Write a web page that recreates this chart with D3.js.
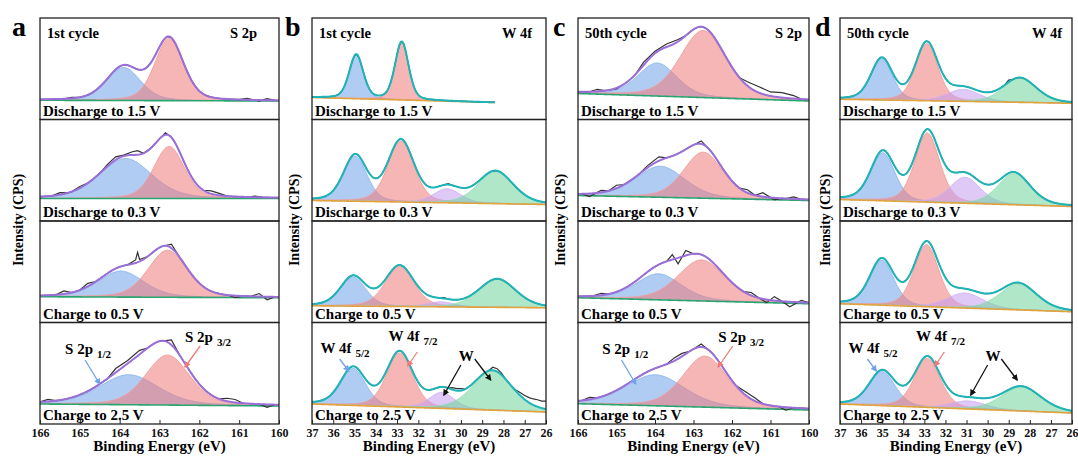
<!DOCTYPE html>
<html>
<head>
<meta charset="utf-8">
<script src="https://cdn.jsdelivr.net/npm/d3@7"></script>
<style>
  body { margin: 0; background: #fff; }
  text { font-family: "Liberation Serif", "Times New Roman", serif; font-weight: bold; }
</style>
</head>
<body>
<div id="chart"></div>
<script>
// ---- data ----
const panelLetters = ["a", "b", "c", "d"];
const cycleLabels = ["1st cycle", "1st cycle", "50th cycle", "50th cycle"];
const elementLabels = ["S 2p", "W 4f", "S 2p", "W 4f"];
const stateLabels = ["Discharge to 1.5 V", "Discharge to 0.3 V", "Charge to 0.5 V", "Charge to 2.5 V"];
const sTicks = [166, 165, 164, 163, 162, 161, 160];
const wTicks = [37, 36, 35, 34, 33, 32, 31, 30, 29, 28, 27, 26];

// fitted components per state: [binding energy (eV), height, FWHM (eV)]
// S 2p order: 2p1/2 (blue), 2p3/2 (red)
const s1Peaks = [
  [[163.90, 33, 1.00], [162.76, 62, 0.85]],
  [[163.85, 40, 1.55], [162.76, 52, 0.90]],
  [[163.97, 26, 1.35], [162.80, 47, 1.15]],
  [[163.77, 30, 1.75], [162.80, 50, 1.30]]
];
const s50Peaks = [
  [[163.94, 33, 1.20], [162.75, 67, 1.40]],
  [[163.86, 31, 1.50], [162.75, 46, 1.20]],
  [[163.91, 26, 1.40], [162.79, 41, 1.45]],
  [[163.99, 31, 1.80], [162.70, 51, 1.38]]
];
// W 4f order: 4f5/2 (blue), 4f7/2 (red), W (purple), W (green)
const w1Peaks = [
  [[34.92, 44, 0.78], [32.78, 58, 0.75]],
  [[34.97, 45, 1.30], [32.82, 61, 1.45], [30.65, 14, 1.50], [28.37, 32, 1.95]],
  [[35.07, 29, 1.40], [32.88, 40, 1.60], [30.96, 5, 1.50], [28.29, 28, 2.05]],
  [[35.07, 37, 1.38], [32.88, 54, 1.45], [30.90, 16, 1.40], [28.52, 39, 2.20]]
];
const w50Peaks = [
  [[35.02, 41, 1.20], [32.89, 57, 1.25], [31.15, 12, 1.80], [28.47, 24, 1.85]],
  [[34.97, 48, 1.35], [32.86, 69, 1.38], [31.07, 26, 1.70], [28.75, 31, 1.80]],
  [[35.02, 45, 1.35], [32.90, 62, 1.38], [31.07, 15, 2.00], [28.55, 26, 2.05]],
  [[35.00, 34, 1.45], [32.86, 49, 1.45], [30.92, 8, 2.00], [28.40, 24, 2.20]]
];

// background level at start / end of the scan
const s1Base = [[19.25, 18.5], [22.5, 22.5], [25.75, 24.75], [20, 18]];
const s50Base = [[26, 18.5], [25.5, 20.5], [24.75, 18.75], [20.3, 14]];
const w1Base = [[22, 17], [20.5, 16.5], [16.75, 14.75], [20, 12]];
const w50Base = [[20.25, 16.25], [21.5, 14.5], [18.75, 10.75], [20, 11]];

// scan ranges (eV)
const w1Range = [[37, 28.4], [37, 26], [37, 26], [37, 26]];

// raw data deviations from the fit envelope: [eV, offset]
const s1Raw = [
  [[165.2, 1], [160.8, 1.5], [160.5, -1], [160.3, 1.5]],
  [[165.5, 2], [165.0, 1.5], [164.3, 2], [164.1, 3], [163.9, 1], [163.7, 3], [163.55, 4], [163.4, 0], [162.85, 2], [161.7, 3], [161.5, 2], [160.6, 1]],
  [[165.4, 3], [164.8, 3], [163.6, 3], [163.55, 10], [163.5, 2], [162.7, 4], [161.1, -2], [160.5, 3], [160.3, -3]],
  [[165.8, 2], [164.1, 4], [163.8, 3], [163.5, 4], [162.7, 5], [161.3, 3], [161.1, 3], [160.3, -3]]
];
const s50Raw = [
  [[165.5, 2], [165.0, -1], [164.3, 3], [164.0, 2], [163.7, 3], [163.4, 2], [161.6, 4], [161.3, 6], [161.0, 4], [160.7, 5], [160.4, 3]],
  [[165.7, -3], [165.4, 2], [165.0, 3], [164.2, 2], [163.9, 4], [162.8, 3], [161.6, 3], [161.2, 4], [160.9, -2], [160.4, 2]],
  [[165.4, 2], [163.55, 5], [163.4, -6], [163.2, 5], [161.5, 3], [161.1, -3], [160.9, 4], [160.5, -5], [160.2, 2]],
  [[165.7, 2], [163.5, 3], [163.3, 3], [162.8, 3], [161.7, 3], [161.4, 3], [160.6, -3]]
];
const w1Raw = [
  [], [[30.6, 1]], [[30.8, 1]],
  [[30.4, 2], [30.2, 2], [30.0, 2], [28.5, 3], [28.3, 3], [28.1, 2], [27.4, 1], [27.2, 3], [27.0, 4], [26.8, 5], [26.6, 6], [26.4, 7], [26.2, 7], [26.0, 8]]
];
const w50Raw = [[[29.0, 2]], [], [], []];

// annotations on the bottom row: [text, subscript, eV, level]
const sNotes = [["S 2p", "1/2", 165.37, 70], ["S 2p", "3/2", 162.36, 82]];
const wNotes = [["W 4f", "5/2", 36.6, 71], ["W 4f", "7/2", 33.4, 83], ["W", "", 30.1, 63]];
// arrows: [eV from, level from, eV to, level to, colour index]
const sArrows = [[164.87, 64, 164.5, 40, 0], [161.98, 78, 162.36, 57, 1]];
const wArrows = [[35.7, 65, 35.28, 53, 0], [32.05, 72, 32.5, 58, 1], [30.0, 59, 30.8, 29, 4], [29.35, 65, 28.6, 44, 4]];

// ---- drawing ----
const fillColors = ["#6fa3e8", "#f07a7a", "#c59cf0", "#6fd39b", "#111"];
const lineColors = ["#8db7ee", "#f29c9c", "#cdb0f0", "#8fdcb0", "#111"];
const fitColor = { S: "#9a6fd8", W: "#1fb5b8" };
const bgColor = { S: "#2aa570", W: "#e2a23c" };

const columns = [
  { frame: [40, 279], domain: [166, 160], ticks: sTicks, kind: "S", peaks: s1Peaks, base: s1Base, raw: s1Raw, inset: 22, titleX: 18, letterX: 12 },
  { frame: [312, 546], domain: [37, 26], ticks: wTicks, kind: "W", peaks: w1Peaks, base: w1Base, raw: w1Raw, ranges: w1Range, inset: 14, titleX: 294, letterX: 285 },
  { frame: [578, 809], domain: [166, 160], ticks: sTicks, kind: "S", peaks: s50Peaks, base: s50Base, raw: s50Raw, inset: 7, titleX: 560, letterX: 553 },
  { frame: [840, 1072], domain: [37, 26], ticks: wTicks, kind: "W", peaks: w50Peaks, base: w50Base, raw: w50Raw, inset: 10, titleX: 825, letterX: 815 }
];

const svg = d3.select("#chart").append("svg")
  .attr("width", 1078)
  .attr("height", 459);

const defs = svg.append("defs");
[0, 1, 4].forEach(i => {
  defs.append("marker")
    .attr("id", "arrow" + i)
    .attr("viewBox", "0 0 10 10")
    .attr("refX", 8).attr("refY", 5)
    .attr("markerWidth", 5).attr("markerHeight", 5)
    .attr("orient", "auto")
    .append("path")
    .attr("d", "M0,0 L10,5 L0,10 z")
    .attr("fill", i == 4 ? "#111" : fillColors[i]);
});

const rows = d3.scaleBand().domain(d3.range(4)).range([18, 424]);

// pseudo-Voigt (30% Lorentzian) line shape of one fitted component
function component(p, e) {
  const t = (e - p[0]) / p[2];
  return p[1] * (0.7 * Math.exp(-4 * Math.LN2 * t * t) + 0.3 / (1 + 4 * t * t));
}

columns.forEach((col, ci) => {
  const x = d3.scaleLinear().domain(col.domain).range(col.frame);

  d3.range(4).forEach(r => {
    const top = rows(r), bot = top + rows.bandwidth();
    const y = d3.scaleLinear().domain([0, bot - top]).range([bot, top]);
    const range = col.ranges ? col.ranges[r] : col.domain;
    const [b0, b1] = col.base[r];
    const bg = e => b0 + (b1 - b0) * (e - range[0]) / (range[1] - range[0]);
    const peaks = col.peaks[r];
    const fit = e => bg(e) + d3.sum(peaks, p => component(p, e));

    const grid = d3.range(range[0], range[1] - 1e-6, -0.02).concat([range[1]]);

    const id = "clip" + ci + r;
    defs.append("clipPath").attr("id", id)
      .append("rect")
      .attr("x", col.frame[0]).attr("y", top)
      .attr("width", col.frame[1] - col.frame[0]).attr("height", bot - top);

    const g = svg.append("g").attr("clip-path", `url(#${id})`);

    peaks.forEach((p, i) => {
      g.append("path")
        .datum(grid)
        .attr("d", d3.area().x(e => x(e)).y0(e => y(bg(e))).y1(e => y(bg(e) + component(p, e))))
        .attr("fill", fillColors[i])
        .attr("fill-opacity", 0.55);
      g.append("path")
        .datum(grid)
        .attr("d", d3.line().x(e => x(e)).y(e => y(bg(e) + component(p, e))))
        .attr("fill", "none")
        .attr("stroke", lineColors[i])
        .attr("stroke-width", 1);
    });

    g.append("path")
      .datum(grid)
      .attr("d", d3.line().x(e => x(e)).y(e => y(bg(e))))
      .attr("fill", "none")
      .attr("stroke", bgColor[col.kind])
      .attr("stroke-width", 1.6);

    // raw spectrum: envelope on a coarse grid plus the read-off deviations
    const bumps = col.raw[r];
    const coarse = d3.range(range[0], range[1] - 1e-6, -0.1).concat([range[1]])
      .filter(e => !bumps.some(b => Math.abs(b[0] - e) < 0.11))
      .map(e => [e, 0]);
    const rawPts = coarse.concat(bumps).sort((a, b) => b[0] - a[0]);
    g.append("path")
      .datum(rawPts)
      .attr("d", d3.line().x(d => x(d[0])).y(d => y(fit(d[0]) + d[1])))
      .attr("fill", "none")
      .attr("stroke", "#333")
      .attr("stroke-width", 1.2);

    g.append("path")
      .datum(grid)
      .attr("d", d3.line().x(e => x(e)).y(e => y(fit(e))))
      .attr("fill", "none")
      .attr("stroke", fitColor[col.kind])
      .attr("stroke-width", 2);

    // frame
    svg.append("rect")
      .attr("x", col.frame[0]).attr("y", top)
      .attr("width", col.frame[1] - col.frame[0]).attr("height", bot - top)
      .attr("fill", "none")
      .attr("stroke", "#222")
      .attr("stroke-width", 1.3);

    svg.append("text")
      .attr("x", col.frame[0] + 3)
      .attr("y", bot - 4)
      .style("font-size", "15px")
      .text(stateLabels[r]);

    if (r == 0) {
      svg.append("text")
        .attr("x", col.frame[0] + 7)
        .attr("y", top + 20)
        .style("font-size", "14.5px")
        .text(cycleLabels[ci]);
      svg.append("text")
        .attr("x", col.frame[1] - col.inset)
        .attr("y", top + 20)
        .attr("text-anchor", "end")
        .style("font-size", "14.5px")
        .text(elementLabels[ci]);
    }

    if (r == 3) {
      const notes = col.kind == "S" ? sNotes : wNotes;
      notes.forEach(n => {
        const t = svg.append("text")
          .attr("x", x(n[2]))
          .attr("y", y(n[3]))
          .style("font-size", "15px")
          .text(n[0]);
        if (n[1]) {
          t.append("tspan").attr("dx", 4).attr("dy", 4).style("font-size", "11px").text(n[1]);
        }
      });
      const arrows = col.kind == "S" ? sArrows : wArrows;
      arrows.forEach(a => {
        svg.append("line")
          .attr("x1", x(a[0])).attr("y1", y(a[1]))
          .attr("x2", x(a[2])).attr("y2", y(a[3]))
          .attr("stroke", a[4] == 4 ? "#111" : fillColors[a[4]])
          .attr("stroke-width", 1.3)
          .attr("marker-end", `url(#arrow${a[4]})`);
      });

      const axis = svg.append("g")
        .attr("transform", `translate(0, ${bot})`)
        .style("font-size", "12px")
        .call(d3.axisBottom(x).tickValues(col.ticks).tickFormat(d3.format("d")).tickSize(-4).tickPadding(4));
      axis.select(".domain").remove();
      axis.selectAll("line").attr("stroke", "#222");
      axis.selectAll("text")
        .attr("fill", "#111")
        .style("font-family", "'Liberation Serif', serif")
        .style("font-weight", "bold");
    }
  });

  // axis titles and panel letter
  svg.append("text")
    .attr("x", (col.frame[0] + col.frame[1]) / 2)
    .attr("y", 451)
    .attr("text-anchor", "middle")
    .style("font-size", "15px")
    .text("Binding Energy (eV)");

  svg.append("text")
    .attr("transform", `translate(${col.titleX + 5}, 220) rotate(-90)`)
    .attr("text-anchor", "middle")
    .style("font-size", "14px")
    .text("Intensity (CPS)");

  svg.append("text")
    .attr("x", col.letterX)
    .attr("y", 36)
    .style("font-size", "28px")
    .text(panelLetters[ci]);
});
</script>
</body>
</html>
